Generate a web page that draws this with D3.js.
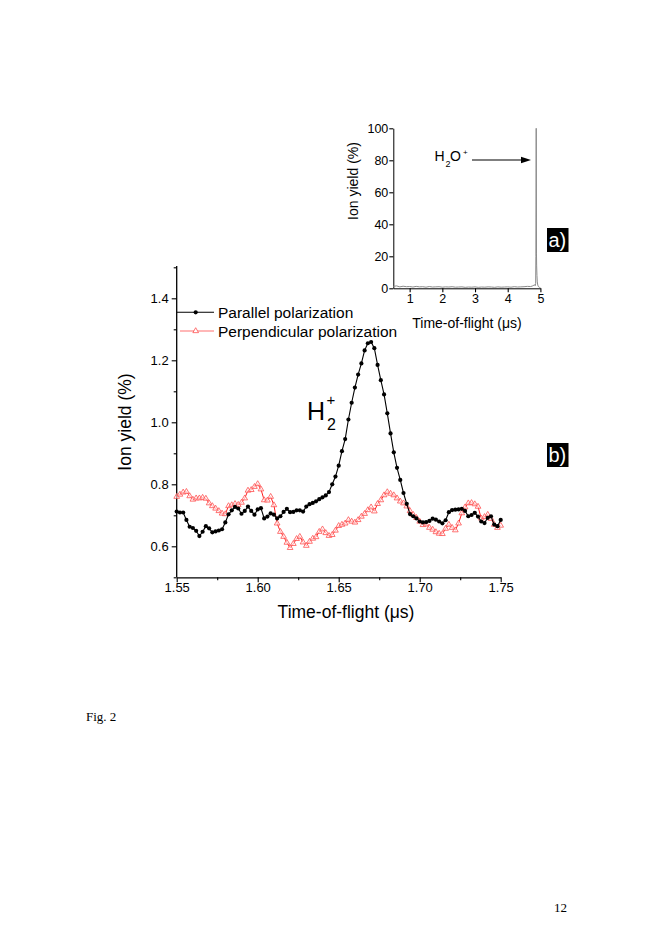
<!DOCTYPE html>
<html><head><meta charset="utf-8">
<script src="https://cdn.jsdelivr.net/npm/d3@7/dist/d3.min.js"></script>
<style>
body{margin:0;background:#fff;}
svg{display:block;}
text{font-family:"Liberation Sans",Arial,sans-serif;}
</style></head>
<body>
<svg id="c" width="654" height="941"></svg>
<script>
// ---- DATA ----
const tStart = 1.55, tStep = 0.002;
const parallel = [0.712,0.709,0.709,0.685,0.663,0.659,0.650,0.633,0.647,0.665,
0.658,0.645,0.648,0.651,0.655,0.677,0.703,0.716,0.727,0.722,
0.705,0.714,0.728,0.714,0.702,0.719,0.723,0.690,0.696,0.706,
0.702,0.690,0.697,0.711,0.721,0.710,0.711,0.716,0.716,0.712,
0.728,0.736,0.740,0.745,0.752,0.758,0.764,0.775,0.800,0.825,
0.860,0.907,0.946,1.009,1.063,1.112,1.154,1.190,1.232,1.255,
1.259,1.239,1.185,1.136,1.090,1.029,0.964,0.903,0.853,0.814,
0.772,0.737,0.704,0.697,0.690,0.680,0.677,0.678,0.682,0.689,
0.686,0.680,0.674,0.684,0.710,0.717,0.718,0.719,0.721,0.714,
0.697,0.701,0.708,0.696,0.680,0.675,0.692,0.697,0.670,0.665,0.685];
const perpendicular = [0.760,0.767,0.774,0.776,0.762,0.751,0.755,0.755,0.757,0.754,
0.739,0.730,0.722,0.714,0.706,0.704,0.730,0.733,0.737,0.734,
0.741,0.755,0.780,0.782,0.792,0.801,0.784,0.749,0.748,0.760,
0.733,0.674,0.647,0.631,0.612,0.595,0.608,0.624,0.631,0.613,
0.602,0.615,0.625,0.630,0.647,0.655,0.643,0.634,0.637,0.651,
0.666,0.670,0.674,0.685,0.680,0.677,0.685,0.696,0.705,0.717,
0.726,0.713,0.737,0.749,0.765,0.775,0.770,0.765,0.755,0.745,
0.739,0.729,0.714,0.702,0.692,0.680,0.669,0.671,0.660,0.654,
0.646,0.641,0.640,0.657,0.670,0.660,0.652,0.674,0.707,0.726,
0.739,0.740,0.736,0.728,0.690,0.695,0.702,0.689,0.670,0.660,0.667];
const mainXTicks = [1.55,1.60,1.65,1.70,1.75];
const mainXMinor = [1.575,1.625,1.675,1.725];
const mainYTicks = [0.6,0.8,1.0,1.2,1.4];
const mainYMinor = [0.5,0.7,0.9,1.1,1.3,1.5];
const seriesNames = ["Parallel polarization","Perpendicular polarization"];

const insetT = [0.5,0.6,0.7,0.8,0.9,1.0,1.1,1.2,1.3,1.4,1.5,1.6,1.7,1.8,1.9,2.0,2.1,2.2,2.3,2.4,2.5,2.6,2.7,2.8,2.9,3.0,3.1,3.2,3.3,3.4,3.5,3.6,3.7,3.8,3.9,4.0,4.1,4.2,4.3,4.4,4.5,4.6,4.7,4.75,4.8,4.82,4.84,4.855,4.862,4.872,4.880,4.885,4.895,4.905,4.92,4.94,4.97,5.0];
const insetY = [1.2,1.5,0.9,1.3,1.0,1.1,0.8,1.2,0.9,1.0,0.7,1.1,0.8,0.9,1.0,0.7,0.9,0.8,1.0,0.7,0.8,0.9,0.6,0.8,0.7,0.9,0.6,0.8,0.7,0.9,0.8,0.6,0.9,0.7,0.8,0.9,0.7,1.0,0.8,0.9,1.0,1.2,1.1,1.4,1.9,2.2,1.6,3.0,20,100,22,14,8,4,2,1,0.6,0.4];
const insetXTicks = [1,2,3,4,5];
const insetYTicks = [0,20,40,60,80,100];

// ---- DRAW ----
const svg = d3.select("#c");
const font = '"Liberation Sans",Arial,sans-serif';

// Main chart scales
const x = d3.scaleLinear().domain([1.55,1.75]).range([176.7,500.7]);
const y = d3.scaleLinear().domain([0.5,1.5]).range([577.3,267.3]);

function styleAxis(g, fs){
  g.selectAll("path.domain").attr("stroke","#000").attr("stroke-width",1.3);
  g.selectAll(".tick line").attr("stroke","#000").attr("stroke-width",1.1);
  g.selectAll(".tick text").attr("fill","#000").style("font-size",fs+"px").style("font-family",font);
}

// minor ticks
svg.append("g").attr("transform","translate(0,577.3)")
  .call(d3.axisBottom(x).tickValues(mainXMinor).tickSize(3).tickFormat(""))
  .call(g=>{g.select(".domain").remove(); g.selectAll(".tick line").attr("stroke","#000").attr("stroke-width",1.1);});
svg.append("g").attr("transform","translate(176.7,0)")
  .call(d3.axisLeft(y).tickValues(mainYMinor).tickSize(3).tickFormat(""))
  .call(g=>{g.select(".domain").remove(); g.selectAll(".tick line").attr("stroke","#000").attr("stroke-width",1.1);});

const gx = svg.append("g").attr("transform","translate(0,577.3)")
  .call(d3.axisBottom(x).tickValues(mainXTicks).tickSize(5).tickSizeOuter(0).tickPadding(0).tickFormat(d3.format(".2f")));
styleAxis(gx,13);
const gy = svg.append("g").attr("transform","translate(176.7,0)")
  .call(d3.axisLeft(y).tickValues(mainYTicks).tickSize(5).tickSizeOuter(0).tickPadding(3).tickFormat(d3.format(".1f")));
styleAxis(gy,13);
gy.select("path.domain").attr("d","M0,577.3V266");

// axis titles
svg.append("text").attr("x",346).attr("y",618).attr("text-anchor","middle")
  .style("font-size","17.5px").text("Time-of-flight (\u03bcs)");
svg.append("text").attr("transform","translate(131,422) rotate(-90)").attr("text-anchor","middle")
  .style("font-size","17.5px").text("Ion yield (%)");

// data
const parData = parallel.map((v,i)=>({t:tStart+tStep*i,v}));
const perData = perpendicular.map((v,i)=>({t:tStart+tStep*i,v}));
const line = d3.line().x(d=>x(d.t)).y(d=>y(d.v));
const redLine = "#ff2020", redMark = "#ff5050";

svg.append("path").datum(perData).attr("d",line).attr("fill","none").attr("stroke",redLine).attr("stroke-width",1);
const tri = d3.symbol().type(d3.symbolTriangle).size(14);
svg.append("g").selectAll("path").data(perData).join("path")
  .attr("d",tri).attr("transform",d=>`translate(${x(d.t)},${y(d.v)})`)
  .attr("fill","#fff").attr("fill-opacity",0.6).attr("stroke",redMark).attr("stroke-width",0.8);

svg.append("path").datum(parData).attr("d",line).attr("fill","none").attr("stroke","#000").attr("stroke-width",1.1);
svg.append("g").selectAll("circle").data(parData).join("circle")
  .attr("cx",d=>x(d.t)).attr("cy",d=>y(d.v)).attr("r",2.1).attr("fill","#000");

// legend
const lg = svg.append("g");
lg.append("line").attr("x1",177).attr("x2",214).attr("y1",312.3).attr("y2",312.3).attr("stroke","#000").attr("stroke-width",1.1);
lg.append("circle").attr("cx",195.7).attr("cy",312.3).attr("r",2.1).attr("fill","#000");
lg.append("text").attr("x",218).attr("y",317.5).style("font-size","15.5px").text(seriesNames[0]);
lg.append("line").attr("x1",180).attr("x2",214).attr("y1",331).attr("y2",331).attr("stroke","#ff7070").attr("stroke-width",1.1);
lg.append("path").attr("d",tri).attr("transform","translate(195.7,331)").attr("fill","#fff").attr("stroke",redMark).attr("stroke-width",0.8);
lg.append("text").attr("x",218).attr("y",336.5).style("font-size","15.5px").text(seriesNames[1]);

// H2+ label
const h2 = svg.append("text").attr("x",307).attr("y",420).style("font-size","25px");
h2.append("tspan").text("H");
svg.append("text").attr("x",327).attr("y",430).style("font-size","16px").text("2");
svg.append("text").attr("x",326.5).attr("y",405).style("font-size","15px").text("+");

// ---- INSET ----
const xi = d3.scaleLinear().domain([0.5,5]).range([393.3,540.4]);
const yi = d3.scaleLinear().domain([0,100]).range([288.3,128.3]);
const gxi = svg.append("g").attr("transform","translate(0,288.3)")
  .call(d3.axisBottom(xi).tickValues(insetXTicks).tickSize(4).tickSizeOuter(0).tickPadding(2).tickFormat(d3.format("d")));
styleAxis(gxi,12.5);
const gyi = svg.append("g").attr("transform","translate(393.3,0)")
  .call(d3.axisLeft(yi).tickValues(insetYTicks).tickSize(4).tickSizeOuter(0).tickPadding(1).tickFormat(d3.format("d")));
styleAxis(gyi,12.5);
gxi.select("path.domain").attr("stroke-width",1);
gyi.select("path.domain").attr("stroke-width",1);

svg.append("text").attr("x",467).attr("y",327.5).attr("text-anchor","middle").style("font-size","14px").text("Time-of-flight (\u03bcs)");
svg.append("text").attr("transform","translate(358,181) rotate(-90)").attr("text-anchor","middle").style("font-size","14px").text("Ion yield (%)");

const insetData = insetT.map((t,i)=>({t,v:insetY[i]}));
svg.append("path").datum(insetData)
  .attr("d",d3.line().x(d=>xi(d.t)).y(d=>yi(d.v)))
  .attr("fill","none").attr("stroke","#8a8a8a").attr("stroke-width",1);

// H2O+ label + arrow
svg.append("text").attr("x",434.5).attr("y",161).style("font-size","14px").text("H");
svg.append("text").attr("x",445.5).attr("y",167).style("font-size","9px").text("2");
svg.append("text").attr("x",450).attr("y",161).style("font-size","14px").text("O");
svg.append("text").attr("x",463).attr("y",155).style("font-size","8px").text("+");
svg.append("line").attr("x1",472).attr("x2",522).attr("y1",160).attr("y2",160).attr("stroke","#000").attr("stroke-width",1.2);
svg.append("path").attr("d","M521,156.8L531,160L521,163.2Z").attr("fill","#000");

// panel labels
function panelLabel(x0,y0,txt){
  svg.append("rect").attr("x",x0).attr("y",y0).attr("width",21.5).attr("height",24).attr("fill","#000");
  svg.append("text").attr("x",x0+1.5).attr("y",y0+19).style("font-size","20px").attr("fill","#fff").text(txt);
}
panelLabel(547,228,"a)");
panelLabel(547,443,"b)");

// page texts
svg.append("text").attr("x",86).attr("y",721).style("font-family","'Liberation Serif','Times New Roman',serif").style("font-size","13px").text("Fig. 2");
svg.append("text").attr("x",554).attr("y",912).style("font-family","'Liberation Serif','Times New Roman',serif").style("font-size","13px").text("12");
</script>
</body></html>
